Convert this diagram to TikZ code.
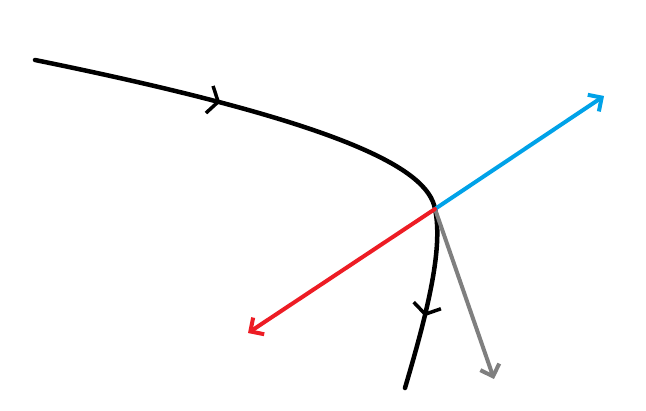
\documentclass[tikz,border=0pt]{standalone}
\usetikzlibrary{arrows.meta,decorations.markings}
\definecolor{pblue}{HTML}{00A2E8}
\definecolor{pred}{HTML}{ED1C24}
\definecolor{pgray}{HTML}{7F7F7F}
\tikzset{
  traj/.style={line width=4.5pt, black, line cap=round,
    postaction={decorate, decoration={markings,
      mark=at position 190pt with {\arrow[line width=3.5pt]{Straight Barb[length=9pt,width=28pt]}},
      mark=at position 0.88 with {\arrow[line width=3.5pt]{Straight Barb[length=9pt,width=28pt]}}}}},
  vec/.style={line width=4pt, line cap=round, -{Straight Barb[length=10pt,width=20pt]}}
}
\begin{document}
\begin{tikzpicture}[x=1pt,y=-1pt]
\useasboundingbox (0,0) rectangle (646,411);
\coordinate (S) at (35,60);
\coordinate (P) at (435,209);
\coordinate (E) at (405,388);
\coordinate (B) at (604,96);
\coordinate (R) at (248,333);
\coordinate (G) at (494,379);
\draw[traj] (S) .. controls (340,122) and (428,168) .. (P)
  .. controls (444,250) and (425,320) .. (E);
\draw[vec, pgray] (P) -- (G);
\draw[vec, pblue] (P) -- (B);
\draw[vec, pred] (P) -- (R);
\end{tikzpicture}
\end{document}
